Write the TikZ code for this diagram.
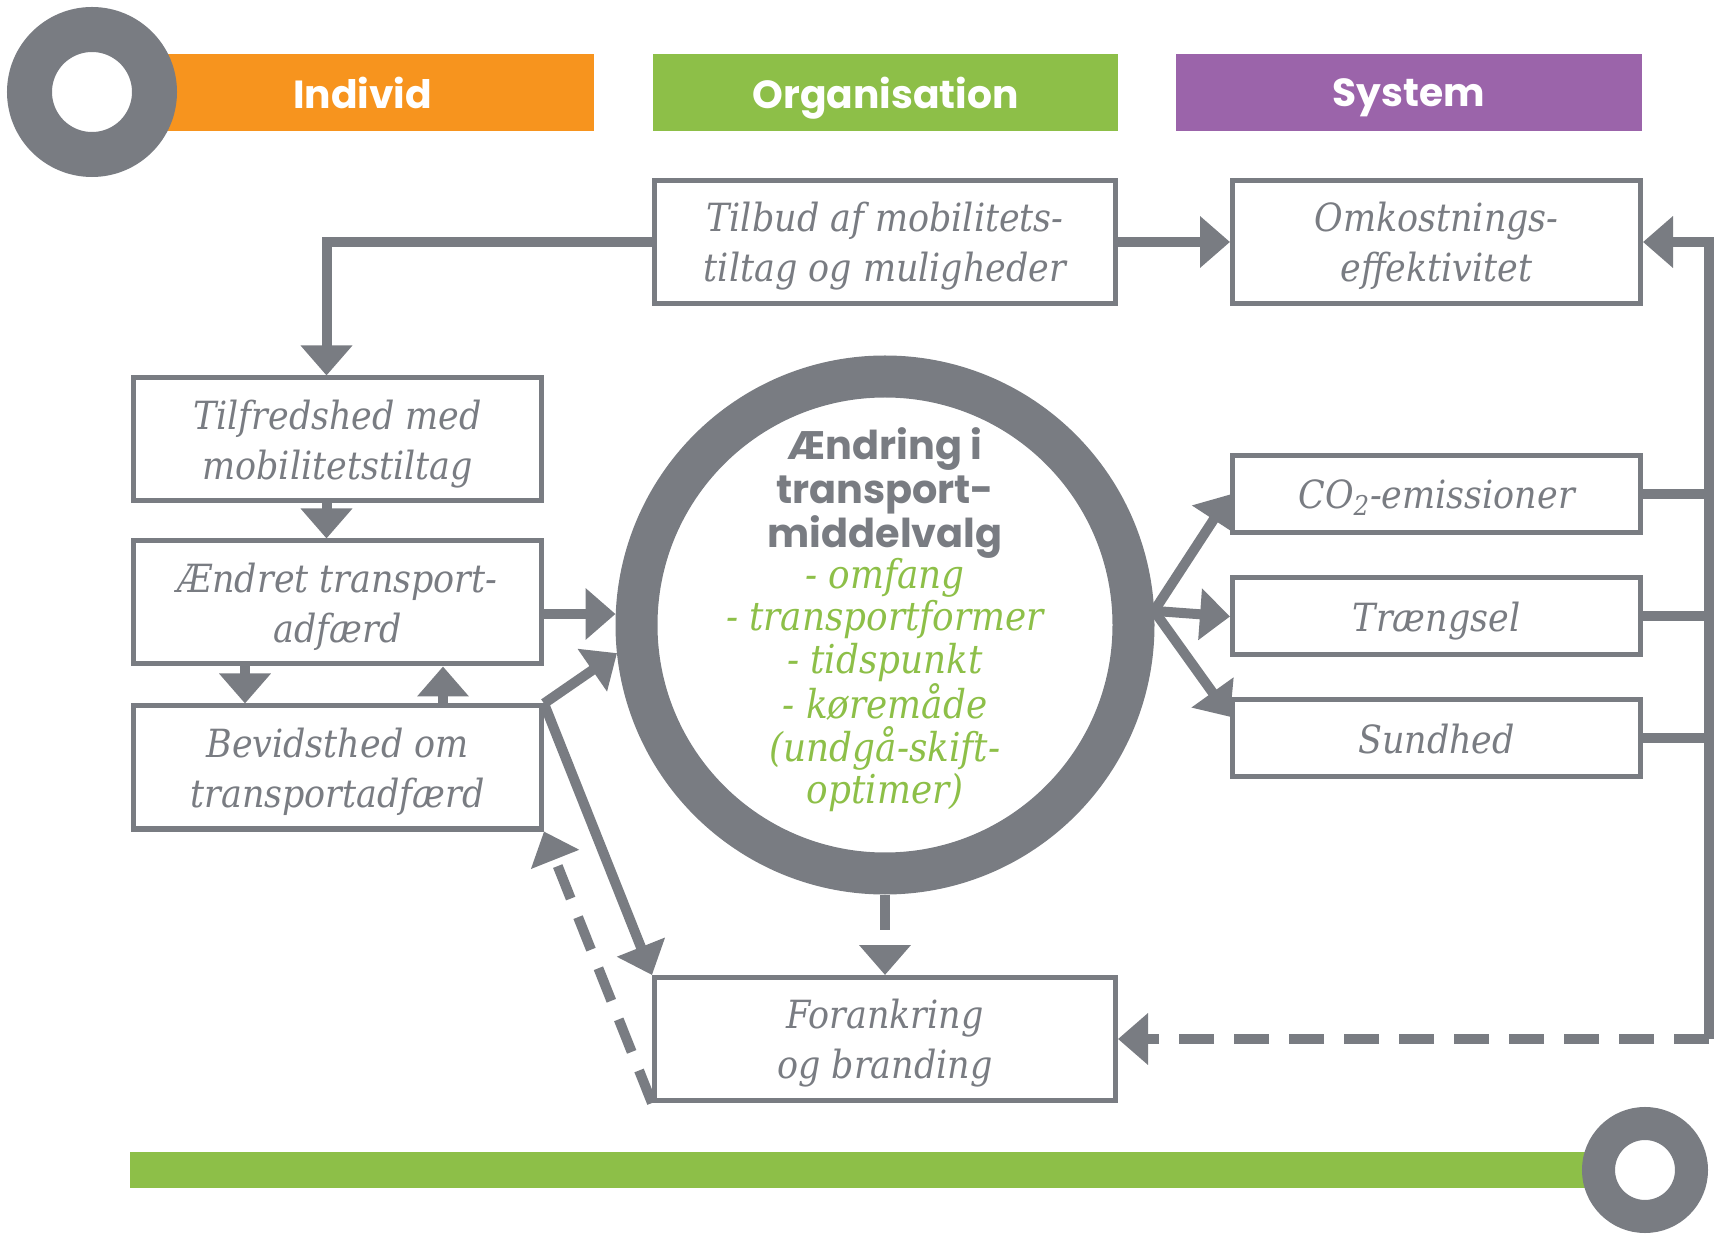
\documentclass[tikz,border=0pt]{standalone}
\usepackage{fontspec}
\usepackage{tikz}
\usetikzlibrary{arrows.meta}

\newfontfamily\boxfont{DejaVu Serif Condensed}
\newfontfamily\headfont{Poppins}

\definecolor{linegray}{RGB}{121,124,130}
\definecolor{indorange}{RGB}{247,148,30}
\definecolor{orggreen}{RGB}{141,191,72}
\definecolor{syspurple}{RGB}{155,100,170}

\begin{document}
\begin{tikzpicture}[x=0.5pt, y=-0.5pt,
  box/.style={draw=linegray, line width=2.5pt, fill=white, text=linegray, align=center,
    inner sep=0pt, text depth=0pt, font=\boxfont\itshape\fontsize{19.4}{25}\selectfont},
  bigbox/.style={box, minimum width=230.5pt, minimum height=61.5pt},
  smallbox/.style={box, minimum width=204pt, minimum height=61.5pt},
  flatbox/.style={box, minimum width=204pt, minimum height=38.5pt},
  hdr/.style={text=white, inner sep=0pt, minimum height=38.5pt, text depth=0pt,
    font=\headfont\bfseries\fontsize{19.6}{22}\selectfont},
  conn/.style={draw=linegray, line width=5pt, -{Triangle[length=15pt,width=25pt]}},
  plain/.style={draw=linegray, line width=5pt},
  dashline/.style={dash pattern=on 17.5pt off 10pt}]

  \useasboundingbox (0,0) rectangle (1721,1235);

  % positions
  \coordinate (c1) at (885,242);
  \coordinate (c2) at (1436.5,242);
  \coordinate (c3) at (337.5,439.5);
  \coordinate (c4) at (337.5,602.5);
  \coordinate (c5) at (337.5,767.5);
  \coordinate (c6) at (885,1039);
  \coordinate (c7) at (1436.5,494.5);
  \coordinate (c8) at (1436.5,616.5);
  \coordinate (c9) at (1436.5,738.5);
  \coordinate (rc) at (1709,1039);

  % header bars and rings
  \node[hdr, fill=indorange, minimum width=231.5pt] (indiv) at (362.5,92.5) {Individ};
  \node[hdr, fill=orggreen, minimum width=232.5pt] (org) at (885.5,92.5) {Organisation};
  \node[hdr, fill=syspurple, minimum width=233pt] (sys) at (1409,92.5) {System};
  \filldraw[draw=linegray, fill=white, line width=22.5pt] (92,92) circle[radius=62.5];

  \fill[orggreen] (130,1152) rectangle (1600,1188);
  \filldraw[draw=linegray, fill=white, line width=16.5pt] (1645,1170) circle[radius=46.5];

  % the boxes
  \node[bigbox] (tilbud) at (c1) {Tilbud af mobilitets-\\tiltag og muligheder};
  \node[smallbox] (omk) at (c2) {Omkostnings-\\effektivitet};
  \node[smallbox] (tilfr) at (c3) {Tilfredshed med\\mobilitetstiltag};
  \node[smallbox] (aendret) at (c4) {Ændret transport-\\adfærd};
  \node[smallbox] (bevid) at (c5) {Bevidsthed om\\transportadfærd};
  \node[bigbox] (forank) at (c6) {Forankring\\og branding};
  \node[flatbox] (co2) at (c7) {CO\textsubscript{2}-emissioner};
  \node[flatbox] (traeng) at (c8) {Trængsel};
  \node[flatbox] (sund) at (c9) {Sundhed};

  % the big circle
  \node[circle, draw=linegray, line width=21pt, minimum size=248.5pt, inner sep=0pt] (circ) at (885,625) {};
  \node[text=linegray, align=center, font=\headfont\bfseries\fontsize{19.9}{22}\selectfont]
    (circtitle) at (885,493) {Ændring i\\transport-\\middelvalg};
  \node[text=orggreen, align=center, font=\boxfont\itshape\fontsize{19.9}{21.3}\selectfont]
    (circlist) at (885,685) {- omfang\\- transportformer\\- tidspunkt\\- køremåde\\(undgå-skift-\\optimer)};

  % Draw the edges
  \draw[conn] (tilbud.west) -| ([xshift=-5.5pt]tilfr.north);
  \draw[conn] (tilbud.east) -- (omk.west);
  \draw[conn] ([xshift=-5.5pt]tilfr.south) -- ([xshift=-5.5pt]aendret.north);
  \draw[conn] ([xshift=-46.25pt]aendret.south) -- ([xshift=-46.25pt]bevid.north);
  \draw[conn] ([xshift=52.75pt]bevid.north) -- ([xshift=52.75pt]aendret.south);
  \draw[conn] ([yshift=-5.75pt]aendret.east) -- ([yshift=-5.75pt]aendret.east -| circ.west);
  \draw[conn] (bevid.north east) -- (circ.186);
  \draw[conn] (bevid.north east) -- (forank.north west);
  \draw[conn, dashline] (forank.south west) -- (bevid.south east);
  \draw[conn, dashline] (circ.south) -- (forank.north);

  % outcomes on the right
  \draw[conn] (circ.3) -- (co2.west);
  \draw[conn] (circ.3) -- (traeng.west);
  \draw[conn] (circ.3) -- (sund.174);

  % feedback line
  \draw[plain] (co2.east) -- (co2.east -| rc);
  \draw[plain] (traeng.east) -- (traeng.east -| rc);
  \draw[plain] (sund.east) -- (sund.east -| rc);
  \draw[conn, line join=miter] (rc) |- (omk.east);
  \draw[conn, dashline] (rc) -- (forank.east);
\end{tikzpicture}
\end{document}
